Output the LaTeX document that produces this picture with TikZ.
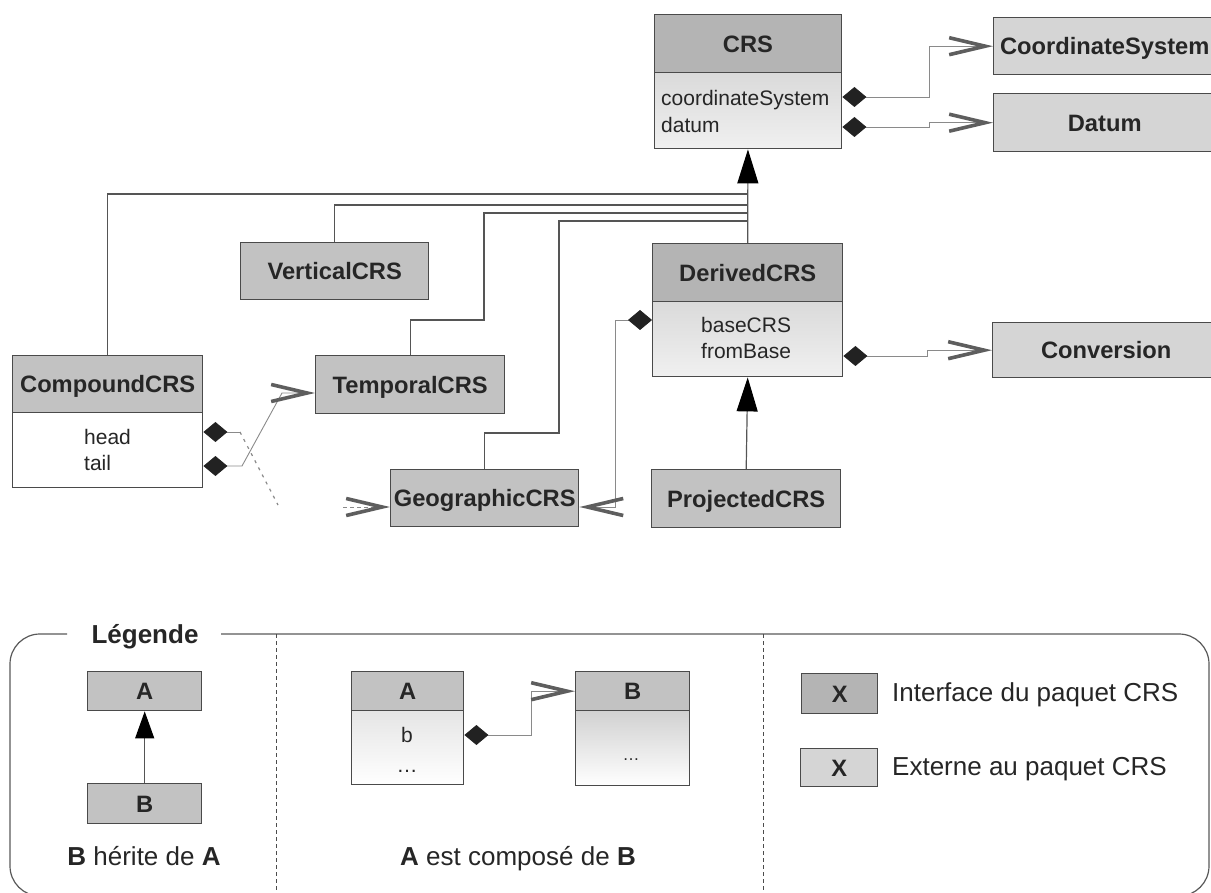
\documentclass[tikz,border=0pt]{standalone}
\usepackage{fontspec}
\setmainfont{Liberation Sans}
\usetikzlibrary{arrows.meta}
\definecolor{hdark}{HTML}{B4B4B4}
\definecolor{hifc}{HTML}{C2C2C2}
\definecolor{hext}{HTML}{D5D5D5}
\definecolor{bodyg}{HTML}{DADADA}
\definecolor{bodyl}{HTML}{F0F0F0}
\definecolor{bcol}{HTML}{4A4A4A}
\definecolor{linecol}{HTML}{8A8A8A}
\definecolor{gencol}{HTML}{555555}
\definecolor{barbcol}{HTML}{5E5E5E}
\definecolor{diam}{HTML}{222222}
\newcommand\lblfont{\bfseries\fontsize{23.7}{28}\selectfont}
\newcommand\attrfont{\fontsize{21}{25}\selectfont}
\newcommand\legfont{\fontsize{26}{30}\selectfont}
\begin{document}
\begin{tikzpicture}[x=1pt,y=-1pt,
  hdr/.style={rectangle, draw=bcol, line width=1.4pt, anchor=north west, inner sep=0pt,
    font=\lblfont, text height=17pt, text depth=0pt, text=black!85},
  attrbody/.style={rectangle, draw=bcol, line width=1.4pt, anchor=north west, inner sep=0pt},
  attr/.style={font=\attrfont, inner sep=0pt, text height=15pt, text depth=0pt, anchor=west, text=black!85},
  legt/.style={font=\legfont, inner sep=0pt, text height=18.6pt, text depth=0pt, text=black!85},
  comp/.style={draw=linecol, line width=0.9pt,
    {Diamond[length=24pt,width=20pt,color=diam]}-{Straight Barb[length=36pt,width=17pt,line width=3.6pt,color=barbcol]}},
  compstart/.style={draw=linecol, line width=0.9pt, {Diamond[length=24pt,width=20pt,color=diam]}-},
  barbend/.style={draw=linecol, line width=0.9pt, -{Straight Barb[length=36pt,width=17pt,line width=3.6pt,color=barbcol]}},
  genl/.style={draw=gencol, line width=1.2pt},
  gen/.style={genl, -{Triangle[length=34pt,width=21pt,color=black]}},
  gensmall/.style={genl, -{Triangle[length=27pt,width=19pt,color=black]}},
  frame/.style={draw=black!65, line width=1.2pt},
  sepline/.style={draw=black!70, line width=0.9pt, dash pattern=on 4pt off 3pt}
]
\useasboundingbox (0,0) rectangle (1211,893);
\clip (0,0) rectangle (1211,893);

% ---------- classes ----------
\node[hdr, fill=hdark, minimum width=187.5pt, minimum height=58pt] (crs) at (653.5,14) {CRS};
\node[attrbody, top color=bodyg, bottom color=bodyl, minimum width=187.5pt, minimum height=76pt] (crsb) at (653.5,72) {};
\node[attr] (crsa1) at (661,98.5) {coordinateSystem};
\node[attr] (crsa2) at (661,125) {datum};

\node[hdr, fill=hext, minimum width=222pt, minimum height=57pt] (cs) at (993,17) {CoordinateSystem};
\node[hdr, fill=hext, minimum width=222pt, minimum height=58pt] (datum) at (993,93) {Datum};

\node[hdr, fill=hifc, minimum width=188pt, minimum height=57pt] (vert) at (240,242) {VerticalCRS};

\node[hdr, fill=hifc, minimum width=190pt, minimum height=57pt] (cmp) at (12,355) {CompoundCRS};
\node[attrbody, fill=white, minimum width=190pt, minimum height=75pt] (cmpb) at (12,412) {};
\node[attr] (cmpa1) at (84,437.5) {head};
\node[attr] (cmpa2) at (84,462.5) {tail};

\node[hdr, fill=hifc, minimum width=189pt, minimum height=58pt] (temp) at (315,355) {TemporalCRS};
\node[hdr, fill=hifc, minimum width=188pt, minimum height=57pt] (geo) at (390,469) {GeographicCRS};

\node[hdr, fill=hdark, minimum width=190pt, minimum height=58pt] (der) at (652,243) {DerivedCRS};
\node[attrbody, top color=bodyg, bottom color=bodyl, minimum width=190pt, minimum height=75pt] (derb) at (652,301) {};
\node[attr] (dera1) at (701,325.5) {baseCRS};
\node[attr] (dera2) at (701,351.5) {fromBase};

\node[hdr, fill=hext, minimum width=227pt, minimum height=55pt] (conv) at (992,322) {Conversion};
\node[hdr, fill=hifc, minimum width=189pt, minimum height=58pt] (proj) at (651,469) {ProjectedCRS};

% ---------- generalisation ----------
\draw[gen] (der.north) -- (crsb.south);
\draw[genl] (cmp.north) |- (crsb.south |- 0,194);
\draw[genl] (vert.north) |- (crsb.south |- 0,205);
\draw[genl] (temp.north) |- (484,320) |- (crsb.south |- 0,213);
\draw[genl] (geo.north) |- (559,433) |- (crsb.south |- 0,221);
\draw[gen] (proj.north) -- (derb.south);

% ---------- composition ----------
\draw[comp] (crsb.east |- 0,97) -- (929.5,97) |- (cs.west);
\draw[comp] (crsb.east |- 0,127) -- (929.5,127) |- (datum.west);
\draw[comp] (derb.east |- 0,356) -- (927,356) |- (conv.west);
\draw[comp] (derb.west |- 0,320) -- (615,320) |- (geo.east |- 0,507);
\draw[comp] (cmpb.east |- 0,466) -- (242,466) -- (282,393) -- (temp.west |- 0,393);
\draw[compstart] (cmpb.east |- 0,432) -- (240,432) coordinate (hk);
\draw[draw=linecol, line width=1.2pt, dash pattern=on 3pt off 5pt] (hk) -- (278,505) coordinate (hend);
\coordinate (gin) at (343,507);
\draw[barbend, dash pattern=on 4pt off 3pt] (gin) -- (geo.west |- gin);

% ---------- legend ----------
\draw[frame, rounded corners=30pt] (67,634) -- (10,634) -- (10,896) -- (1209,896) -- (1209,634) -- (221,634);
\node[legt, font=\legfont\bfseries] (legtitle) at (145,634) {Légende};
\draw[sepline] (276,634) -- (276,893);
\draw[sepline] (763,634) -- (763,893);

\node[hdr, fill=hifc, minimum width=114pt, minimum height=39pt] (la) at (87,671) {A};
\node[hdr, fill=hifc, minimum width=114pt, minimum height=40pt] (lb) at (87,783) {B};
\draw[gensmall] (lb.north) -- (la.south);
\node[legt] (ltxt1) at (144,856) {\textbf{B} hérite de \textbf{A}};

\node[hdr, fill=hifc, minimum width=112pt, minimum height=39pt] (ca) at (351,671) {A};
\node[attrbody, top color=black!10, bottom color=white, minimum width=112pt, minimum height=74pt] (cab) at (351,710) {};
\node[attr, anchor=center] (cab1) at (407,735) {b};
\node[attr, anchor=center] (cab2) at (407,765) {\ldots};
\node[hdr, fill=hifc, minimum width=114pt, minimum height=39pt] (cb) at (575,671) {B};
\node[attrbody, top color=black!18, bottom color=white, minimum width=114pt, minimum height=75pt] (cbb) at (575,710) {};
\node[attr, anchor=center, font=\fontsize{17}{20}\selectfont] (cbb1) at (631,753) {\ldots};
\draw[comp] (cab.east |- cab1) -- (531,735) |- (cb.west);
\node[legt] (ltxt2) at (518,856) {\textbf{A} est composé de \textbf{B}};

\node[hdr, fill=hdark, minimum width=76pt, minimum height=40pt] (x1) at (801,673) {X};
\node[hdr, fill=hext, minimum width=77pt, minimum height=38pt] (x2) at (800,748) {X};
\node[legt, anchor=west] (lt3) at (892,692) {Interface du paquet CRS};
\node[legt, anchor=west] (lt4) at (892,766) {Externe au paquet CRS};
\end{tikzpicture}
\end{document}
